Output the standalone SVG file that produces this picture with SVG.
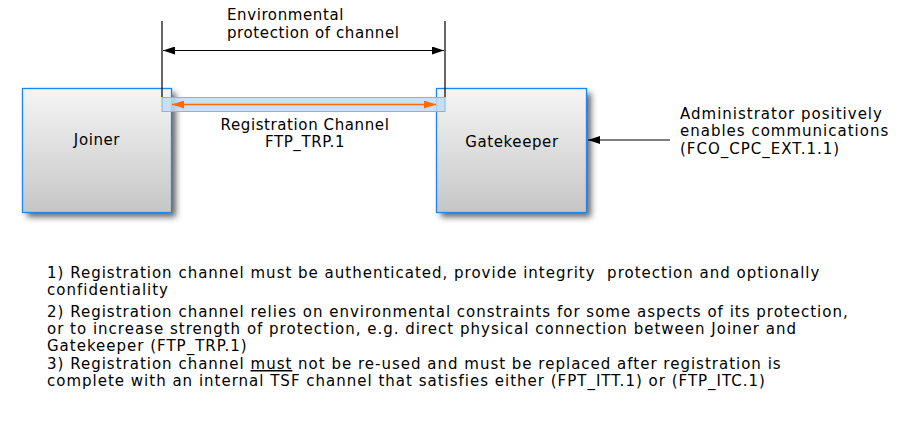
<svg xmlns="http://www.w3.org/2000/svg" width="924" height="444" viewBox="0 0 924 444">
<style>
text{font-family:"DejaVu Sans",sans-serif;font-size:15px;fill:#000}
.n{letter-spacing:1px}
.l{letter-spacing:0.6px}
.pre{white-space:pre}
.box{fill:url(#g);stroke:#1e86f0;stroke-width:1.3}
.dim{stroke:#000;stroke-width:1.2;fill:none}
</style>
<defs>
<linearGradient id="g" x1="0" y1="0" x2="0" y2="1"><stop offset="0" stop-color="#f5f5f5"/><stop offset="1" stop-color="#c6c6c6"/></linearGradient>
<filter id="sh" x="-20%" y="-20%" width="150%" height="150%"><feGaussianBlur stdDeviation="3"/></filter>
<marker id="ab" markerWidth="12" markerHeight="8" refX="12" refY="4" orient="auto-start-reverse" markerUnits="userSpaceOnUse"><path d="M0,0 L12,4 L0,8 Z" fill="#000"/></marker>
<marker id="ao" markerWidth="12" markerHeight="8" refX="12" refY="4" orient="auto-start-reverse" markerUnits="userSpaceOnUse"><path d="M0,0 L12,4 L0,8 Z" fill="#ff6a00"/></marker>
</defs>
<g id="joiner">
<rect x="27" y="93" width="149" height="124" fill="#333" opacity="0.75" filter="url(#sh)"/>
<rect class="box" x="22.5" y="88.5" width="149" height="124"/>
<text class="l" x="97" y="145" text-anchor="middle">Joiner</text>
</g>
<g id="gatekeeper">
<rect x="441" y="93" width="150" height="124" fill="#333" opacity="0.75" filter="url(#sh)"/>
<rect class="box" x="436.5" y="88.5" width="150" height="124"/>
<text class="l" x="512" y="147" text-anchor="middle">Gatekeeper</text>
</g>
<g id="channel">
<rect x="162" y="97.5" width="283" height="14" fill="#c5dbf6" fill-opacity="0.85" stroke="#7fb4f0" stroke-width="1"/>
<text class="l" x="305" y="130" text-anchor="middle">Registration Channel</text>
<text class="l" x="305" y="147" text-anchor="middle">FTP_TRP.1</text>
</g>
<g id="env">
<text class="l" x="227" y="20">Environmental</text>
<text class="l" x="227" y="38">protection of channel</text>
</g>
<g id="admin">
<text class="n" x="680" y="119">Administrator positively</text>
<text class="n" x="680" y="136">enables communications</text>
<text class="n" x="680" y="154">(FCO_CPC_EXT.1.1)</text>
</g>
<g id="connectors">
<line class="dim" x1="162" y1="21" x2="162" y2="97"/>
<line class="dim" x1="445" y1="21" x2="445" y2="97"/>
<line class="dim" x1="163" y1="50.5" x2="444" y2="50.5" marker-start="url(#ab)" marker-end="url(#ab)"/>
<line x1="172" y1="104.5" x2="436" y2="104.5" stroke="#ff6a00" stroke-width="1.5" marker-start="url(#ao)" marker-end="url(#ao)"/>
<line class="dim" x1="670" y1="140" x2="588" y2="140" marker-end="url(#ab)"/>
</g>
<g id="notes">
<text class="n pre" x="47" y="278">1) Registration channel must be authenticated, provide integrity  protection and optionally</text>
<text class="n" x="47" y="295">confidentiality</text>
<text class="n" x="47" y="317">2) Registration channel relies on environmental constraints for some aspects of its protection,</text>
<text class="n" x="47" y="334">or to increase strength of protection, e.g. direct physical connection between Joiner and</text>
<text class="n" x="47" y="351">Gatekeeper (FTP_TRP.1)</text>
<text class="n" x="47" y="369">3) Registration channel <tspan text-decoration="underline">must</tspan> not be re-used and must be replaced after registration is</text>
<text class="n" x="47" y="386">complete with an internal TSF channel that satisfies either (FPT_ITT.1) or (FTP_ITC.1)</text>
</g>
</svg>
